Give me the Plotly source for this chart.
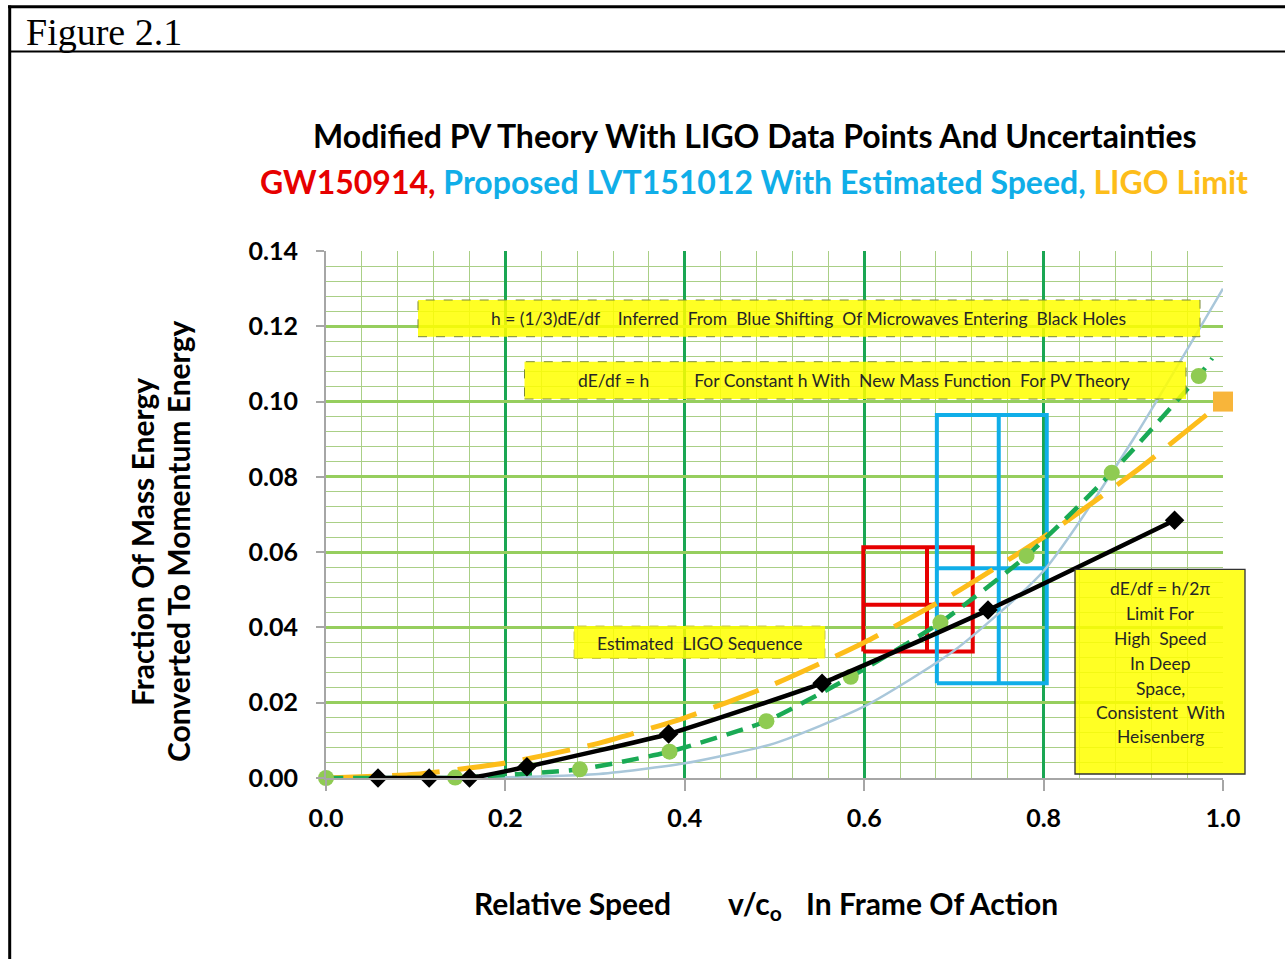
import plotly.graph_objects as go

# ---------------- data ----------------
# Modified PV theory, dE/df = h/2pi (black diamonds)
pv_x = [0.058, 0.115, 0.160, 0.224, 0.382, 0.553, 0.738, 0.946]
pv_y = [0.0, 0.0, 0.0, 0.003, 0.0117, 0.0252, 0.0446, 0.0685]

# dE/df = h, constant h (green dashed, light green circles)
const_h_x = [0.0, 0.144, 0.283, 0.383, 0.491, 0.585, 0.685, 0.781, 0.876, 0.973, 0.988]
const_h_y = [0.0, 0.0001, 0.0023, 0.0070, 0.0151, 0.0269, 0.0413, 0.0590, 0.0811, 0.1068, 0.1115]

# h = (1/3) dE/df (light blue thin line)
third_x = [0.0, 0.1, 0.2, 0.3, 0.4, 0.5, 0.6, 0.7, 0.8, 0.9, 1.0]
third_y = [0.0, 0.0, 0.0002, 0.0010, 0.0039, 0.0092, 0.0190, 0.0338, 0.0550, 0.0900, 0.1300]

# Estimated LIGO sequence (orange long dash)
ligo_seq_x = [0.0, 0.1, 0.2, 0.3, 0.4, 0.5, 0.6, 0.7, 0.8, 0.9, 1.0]
ligo_seq_y = [0.0, 0.001, 0.004, 0.009, 0.016, 0.025, 0.036, 0.049, 0.064, 0.081, 0.100]

# LIGO limit point (orange square)
ligo_limit_x = [1.0]
ligo_limit_y = [0.10]

# GW150914 (red box): centre and uncertainty limits
gw_x, gw_x_lo, gw_x_hi = 0.670, 0.599, 0.721
gw_y, gw_y_lo, gw_y_hi = 0.046, 0.0336, 0.0613

# Proposed LVT151012 (blue box)
lvt_x, lvt_x_lo, lvt_x_hi = 0.750, 0.681, 0.8035
lvt_y, lvt_y_lo, lvt_y_hi = 0.0557, 0.0252, 0.0964

x_ticks = [0.0, 0.2, 0.4, 0.6, 0.8, 1.0]
y_ticks = [0.00, 0.02, 0.04, 0.06, 0.08, 0.10, 0.12, 0.14]

FONT = "Lato"


def box_path(xc, xlo, xhi, yc, ylo, yhi):
    xs = [xlo, xhi, xhi, xlo, xlo, None, xc, xc, None, xlo, xhi]
    ys = [ylo, ylo, yhi, yhi, ylo, None, ylo, yhi, None, yc, yc]
    return xs, ys


fig = go.Figure()

# uncertainty boxes (drawn first so curves sit over them)
bx, by = box_path(gw_x, gw_x_lo, gw_x_hi, gw_y, gw_y_lo, gw_y_hi)
fig.add_trace(go.Scatter(x=bx, y=by, mode="lines", line=dict(color="#E60000", width=4),
                         hoverinfo="skip", name="GW150914"))
bx, by = box_path(lvt_x, lvt_x_lo, lvt_x_hi, lvt_y, lvt_y_lo, lvt_y_hi)
fig.add_trace(go.Scatter(x=bx, y=by, mode="lines", line=dict(color="#10AEE8", width=4),
                         hoverinfo="skip", name="LVT151012"))

# h = (1/3) dE/df
fig.add_trace(go.Scatter(x=third_x, y=third_y, mode="lines",
                         line=dict(color="#A9C7DA", width=2.5, shape="spline", smoothing=0.6),
                         cliponaxis=False, name="h=(1/3)dE/df"))

# Estimated LIGO sequence
fig.add_trace(go.Scatter(x=ligo_seq_x, y=ligo_seq_y, mode="lines",
                         line=dict(color="#FDBD1A", width=5, dash="48px,18px", shape="spline", smoothing=0.6),
                         name="Estimated LIGO Sequence"))

# dE/df = h
fig.add_trace(go.Scatter(x=const_h_x, y=const_h_y, mode="lines",
                         line=dict(color="#1AAA55", width=4.5, dash="17px,10px", shape="spline", smoothing=0.5),
                         cliponaxis=False, name="dE/df = h"))
fig.add_trace(go.Scatter(x=const_h_x[:-1], y=const_h_y[:-1], mode="markers",
                         marker=dict(color="#8FCB52", size=16, opacity=1, line=dict(width=0)),
                         cliponaxis=False, name="dE/df = h points"))

# Modified PV theory
fig.add_trace(go.Scatter(x=pv_x, y=pv_y, mode="lines+markers",
                         line=dict(color="black", width=4.5, shape="spline", smoothing=0.4),
                         marker=dict(symbol="diamond", color="black", size=15),
                         cliponaxis=False, name="dE/df = h/2π"))

# LIGO limit
fig.add_trace(go.Scatter(x=ligo_limit_x, y=ligo_limit_y, mode="markers",
                         marker=dict(symbol="square", color="#F8B53A", size=20),
                         cliponaxis=False, name="LIGO Limit"))

# ---------------- layout ----------------
L, R, T, B = 326, 62, 251, 181
W, H = 1285, 959
PW, PH = W - L - R, H - T - B


def px(xp):
    return (xp - L) / PW


def py(yp):
    return (H - B - yp) / PH


shapes = []
# frame of the figure page
shapes.append(dict(type="line", xref="paper", yref="paper", x0=px(8), x1=px(1285), y0=py(6.7), y1=py(6.7),
                   line=dict(color="black", width=3)))
shapes.append(dict(type="line", xref="paper", yref="paper", x0=px(9), x1=px(1285), y0=py(51.5), y1=py(51.5),
                   line=dict(color="black", width=2)))
shapes.append(dict(type="line", xref="paper", yref="paper", x0=px(9.7), x1=px(9.7), y0=py(5.5), y1=py(960),
                   line=dict(color="black", width=3)))

# yellow text boxes
yellow = "rgba(255,255,0,0.86)"
for (x0, y0, x1, y1, dash, bw, bc) in [
    (418, 300, 1200, 336.7, "dash", 1, "#7A8A3A"),
    (524.5, 361.7, 1186, 399, "dash", 1, "#7A8A3A"),
    (574, 626, 825, 658.5, "dash", 1, "#C8C850"),
    (1075, 569.3, 1245, 774, "solid", 1.3, "#333333"),
]:
    shapes.append(dict(type="rect", xref="paper", yref="paper", x0=px(x0), x1=px(x1), y0=py(y1), y1=py(y0),
                       fillcolor=yellow, line=dict(color=bc, width=bw, dash=dash), layer="above"))

NB = "\u00a0"
annotations = []
box_font = dict(family=FONT, size=17.5, color="#262626")
annotations.append(dict(xref="paper", yref="paper", x=px(808.5), y=py(318.5), showarrow=False,
                        text="h = (1/3)dE/df" + NB * 4 + "Inferred" + NB + " From" + NB + " Blue Shifting" + NB +
                             " Of Microwaves Entering" + NB + " Black Holes",
                        font=box_font, xanchor="center", yanchor="middle"))
annotations.append(dict(xref="paper", yref="paper", x=px(854), y=py(380.5), showarrow=False,
                        text="dE/df = h" + NB * 10 + "For Constant h With" + NB + " New Mass Function" + NB +
                             " For PV Theory",
                        font=box_font, xanchor="center", yanchor="middle"))
annotations.append(dict(xref="paper", yref="paper", x=px(699.5), y=py(643), showarrow=False,
                        text="Estimated" + NB + " LIGO Sequence", font=box_font, xanchor="center", yanchor="middle"))
right_lines = ["dE/df = h/2π", "Limit For", "High" + NB + " Speed", "In Deep", "Space,",
               "Consistent" + NB + " With", "Heisenberg"]
right_y = [588.3, 613.3, 638, 663, 688, 712, 736.7]
for t, yy in zip(right_lines, right_y):
    annotations.append(dict(xref="paper", yref="paper", x=px(1160), y=py(yy), showarrow=False, text=t,
                            font=box_font, xanchor="center", yanchor="middle"))

# page heading
annotations.append(dict(xref="paper", yref="paper", x=px(24), y=py(32), showarrow=False, text="Figure 2.1",
                        font=dict(family="Liberation Serif", size=38, color="black"),
                        xanchor="left", yanchor="middle"))

# chart titles
title_font = dict(family=FONT, size=32, color="black", weight="bold")
annotations.append(dict(xref="paper", yref="paper", x=px(754.5), y=py(136), showarrow=False,
                        text="Modified PV Theory With LIGO Data Points And Uncertainties",
                        font=title_font, xanchor="center", yanchor="middle"))
annotations.append(dict(xref="paper", yref="paper", x=px(753.5), y=py(181), showarrow=False,
                        text="<span style='color:#E60000'>GW150914,</span> "
                             "<span style='color:#10AEE8'>Proposed LVT151012 With Estimated Speed,</span> "
                             "<span style='color:#FDBD1A'>LIGO Limit</span>",
                        font=title_font, xanchor="center", yanchor="middle"))

# axis titles
axt_font = dict(family=FONT, size=30, color="black", weight="bold")
annotations.append(dict(xref="paper", yref="paper", x=px(142), y=py(542), showarrow=False,
                        text="Fraction Of Mass Energy", textangle=-90, font=axt_font,
                        xanchor="center", yanchor="middle"))
annotations.append(dict(xref="paper", yref="paper", x=px(178), y=py(542), showarrow=False,
                        text="Converted To Momentum Energy", textangle=-90, font=axt_font,
                        xanchor="center", yanchor="middle"))
annotations.append(dict(xref="paper", yref="paper", x=px(572), y=py(903), showarrow=False,
                        text="Relative Speed", font=axt_font, xanchor="center", yanchor="middle"))
annotations.append(dict(xref="paper", yref="paper", x=px(726), y=py(905), showarrow=False,
                        text="v/c<sub>o</sub>", font=axt_font, xanchor="left", yanchor="middle"))
annotations.append(dict(xref="paper", yref="paper", x=px(931.5), y=py(903), showarrow=False,
                        text="In Frame Of Action", font=axt_font, xanchor="center", yanchor="middle"))

tick_font = dict(family=FONT, size=25, color="black", weight="bold")

fig.update_layout(
    width=W, height=H,
    margin=dict(l=L, r=R, t=T, b=B, pad=0),
    paper_bgcolor="white", plot_bgcolor="white",
    showlegend=False,
    shapes=shapes,
    annotations=annotations,
    xaxis=dict(range=[0, 1], tickmode="array", tickvals=x_ticks, ticktext=[f"{v:.1f}" for v in x_ticks],
               showgrid=True, gridcolor="#1AA653", gridwidth=3,
               minor=dict(dtick=0.04, tick0=0, showgrid=True, gridcolor="#AACF86", gridwidth=1),
               showline=True, linecolor="#A6A6A6", linewidth=2, zeroline=False,
               ticks="outside", ticklen=11, tickwidth=2, tickcolor="#A6A6A6",
               tickfont=tick_font, ticklabelstandoff=6, fixedrange=True),
    yaxis=dict(range=[0, 0.14], tickmode="array", tickvals=y_ticks, ticktext=[f"{v:.2f}" for v in y_ticks],
               showgrid=True, gridcolor="#96CE5E", gridwidth=3,
               minor=dict(dtick=0.004, tick0=0, showgrid=True, gridcolor="#AACF86", gridwidth=1),
               showline=True, linecolor="#A6A6A6", linewidth=2, zeroline=False,
               ticks="outside", ticklen=8, tickwidth=2, tickcolor="#A6A6A6",
               tickfont=tick_font, ticklabelstandoff=13, fixedrange=True),
)

fig.write_html("out.html", config={"displayModeBar": False},
               post_script="document.body.style.margin='0';")
